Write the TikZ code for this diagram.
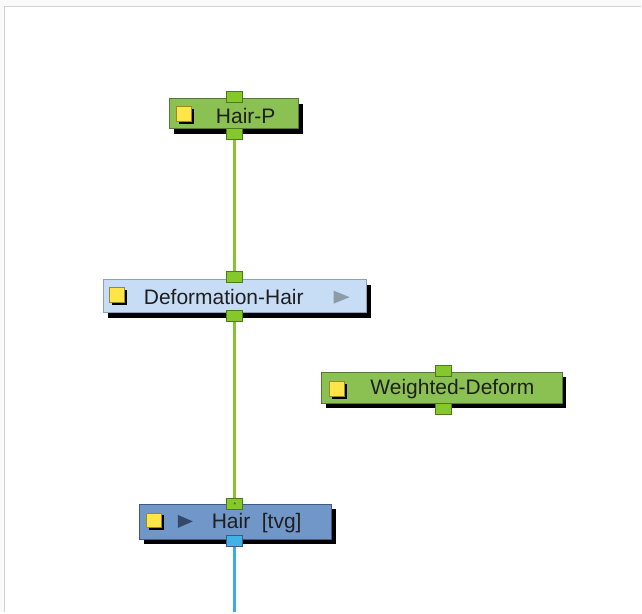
\documentclass[tikz,border=0pt]{standalone}
\usepackage{fontspec}
\setmainfont{Liberation Sans}
\definecolor{bgout}{HTML}{FAFAFA}
\definecolor{frameln}{HTML}{D2D2D2}
\definecolor{gfill}{HTML}{8BC153}
\definecolor{gdraw}{HTML}{56773A}
\definecolor{pfill}{HTML}{84C82C}
\definecolor{pdraw}{HTML}{4E7A1E}
\definecolor{lbfill}{HTML}{C6DDF5}
\definecolor{lbdraw}{HTML}{8CA2BA}
\definecolor{sbfill}{HTML}{7097C8}
\definecolor{sbdraw}{HTML}{3F5A80}
\definecolor{gline}{HTML}{86C232}
\definecolor{cline}{HTML}{3AAEE2}
\definecolor{cport}{HTML}{3FB2E6}
\definecolor{yfill}{HTML}{FFE44A}
\definecolor{ydraw}{HTML}{9A8A20}
\definecolor{trigray}{HTML}{8E9AA8}
\definecolor{tridark}{HTML}{34486A}
\begin{document}
\begin{tikzpicture}[x=1pt,y=-1pt,
  nodebox/.style={rectangle, draw, line width=1pt, inner sep=0pt, anchor=center,
    drop shadow={shadow xshift=4pt, shadow yshift=-5pt, fill=black, opacity=1}},
  gbox/.style={nodebox, fill=gfill, draw=gdraw},
  lbbox/.style={nodebox, fill=lbfill, draw=lbdraw},
  sbbox/.style={nodebox, fill=sbfill, draw=sbdraw},
  port/.style={rectangle, draw=pdraw, fill=pfill, line width=0.8pt, minimum width=16pt, minimum height=11pt, inner sep=0pt},
  cyport/.style={port, draw=sbdraw, fill=cport},
  ybox/.style={rectangle, draw=ydraw, fill=yfill, line width=0.8pt, minimum size=15pt, inner sep=0pt,
    drop shadow={shadow xshift=2pt, shadow yshift=-2pt, fill=black, opacity=1}},
  lbl/.style={inner sep=0pt, font=\fontsize{21}{21}\selectfont, text=black!88},
  gwire/.style={draw=gline, line width=3.2pt},
  cwire/.style={draw=cline, line width=3.2pt}]
\usetikzlibrary{shadows}
% background and frame
\fill[bgout] (0,0) rectangle (642,613);
\fill[white] (5,7) rectangle (642,613);
\draw[frameln, line width=1.5pt] (4.5,613) -- (4.5,6.5) -- (642,6.5);
\useasboundingbox (0,0) rectangle (642,613);

% nodes
\node[gbox, minimum width=129pt, minimum height=30pt] (hairp) at (234.5,114) {};
\node[lbbox, minimum width=263pt, minimum height=33pt] (defh) at (235.5,296.5) {};
\node[gbox, minimum width=241pt, minimum height=31pt] (wdef) at (442.5,388) {};
\node[sbbox, minimum width=192pt, minimum height=35pt] (hair) at (236,522.5) {};

% wires
\draw[gwire] (hairp.south -| 235,0) -- (defh.north -| 235,0);
\draw[gwire] (defh.south -| 235,0) -- (hair.north -| 235,0);
\coordinate (hairout) at (235,613);
\draw[cwire] (hair.south -| 235,0) -- (hairout);

% ports
\node[port] (hairpin) at (234.5,97) {};
\node[port] (hairpout) at (234.5,134) {};
\node[port] (defin) at (234.5,277) {};
\node[port] (defout) at (234.5,316) {};
\node[port] (wdin) at (443.5,371) {};
\node[port] (wdout) at (443.5,409) {};
\node[port] (hairin) at (235,504) {};
\fill[pdraw] (hairin.center) circle (1.2pt);
\node[cyport] (hairoutp) at (235,542) {};

% yellow squares
\node[ybox] (y1) at (184.5,114.5) {};
\node[ybox] (y2) at (117.5,295.5) {};
\node[ybox] (y3) at (337.5,389.5) {};
\node[ybox] (y4) at (154.5,521) {};

% triangles
\fill[trigray] (334,291) -- (334,304) -- (350,297.5) -- cycle;
\fill[tridark] (178,515.5) -- (178,528.5) -- (193,522) -- cycle;

% labels
\node[lbl] (t1) at (246,116) {Hair-P};
\node[lbl] (t2) at (224,297.5) {Deformation-Hair};
\node[lbl] (t3) at (453,390) {Weighted-Deform};
\node[lbl] (t4) at (257,523.5) {Hair\ \ [tvg]};
\end{tikzpicture}
\end{document}
